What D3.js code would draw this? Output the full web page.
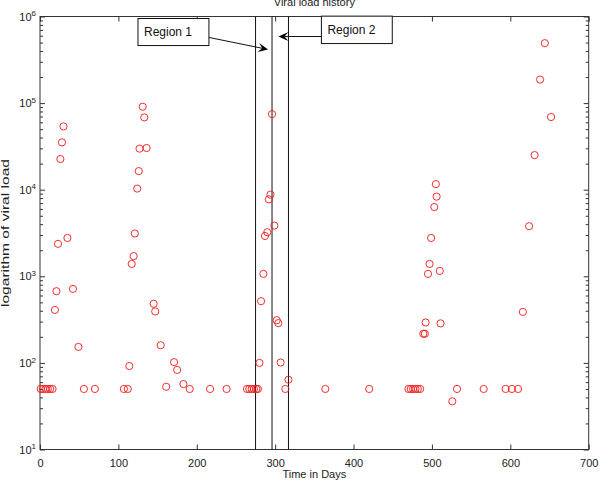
<!DOCTYPE html>
<html>
<head>
<meta charset="utf-8">
<script src="https://cdn.jsdelivr.net/npm/d3@7"></script>
<style>
  body { margin: 0; background: #fff; }
  svg { font-family: "Liberation Sans", Arial, sans-serif; }
</style>
</head>
<body>
<div id="chart"></div>
<script>
// sample days and viral load readings (copies/ml)
const days = [1, 4, 7, 10, 13, 16, 19, 21, 23, 26, 28, 30, 35, 42, 49, 56, 70,
    107, 112, 114, 117, 119.5, 121, 124, 126, 127, 131, 133, 136, 145, 147, 154, 161,
    171, 175, 183, 191, 217, 238, 264, 267, 270, 273, 276, 278, 280, 282, 285, 287,
    290, 292, 294, 296, 299, 302, 304, 307, 313, 317, 364, 420,
    470, 473, 476, 479, 482, 485, 489, 491, 492, 495, 497, 499, 503, 505, 506, 510,
    511, 526, 532, 566, 594, 602, 610, 616, 624, 631, 638, 644, 652];
const viralLoad = [50, 50, 50, 50, 50, 50, 409, 673, 2370, 22600, 35200, 53800, 2770, 716, 153, 50, 50,
    50, 50, 92, 1390, 1710, 3120, 10300, 16400, 29800, 90800, 68400, 30300, 481, 393, 160, 53,
    102, 83, 57, 50, 50, 50, 50, 50, 50, 50, 50, 50, 100, 516, 1066, 2920,
    3230, 7740, 8770, 74600, 3850, 311, 288, 101, 50, 64, 50, 50,
    50, 50, 50, 50, 50, 50, 217, 217, 293, 1066, 1390, 2770, 6310, 11600, 8320, 1153,
    286, 36, 50, 50, 50, 50, 50, 388, 3790, 25100, 187000, 492000, 69000];

const xTicks = [0, 100, 200, 300, 400, 500, 600, 700];
const yDecades = [1e1, 1e2, 1e3, 1e4, 1e5, 1e6];
const regionLines = [275, 296, 317];

const titleText = "Viral load history";
const xLabel = "Time in Days";
const yLabel = "logarithm of viral load";

// callouts, placed in data units
const callouts = [
    { label: "Region 1", x0: 125, x1: 215.5, top: 948000, bottom: 462000,
      from: [215.5, 573000], to: [291, 416000] },
    { label: "Region 2", x0: 359, x1: 449.4, top: 1010000, bottom: 487000,
      from: [359, 587000], to: [304.2, 587000] }
];

const width = 600, height = 482;
const plot = { left: 40, right: 588.7, top: 16.5, bottom: 449.5 };
const axisColor = "#333";

const svg = d3.select("#chart").append("svg")
    .attr("width", width)
    .attr("height", height);

const x = d3.scaleLinear().domain([0, 700]).range([plot.left, plot.right]);
const y = d3.scaleLog().domain([10, 1e6]).range([plot.bottom, plot.top]);

// minor log ticks 2..9 in each decade
const minorTicks = [];
yDecades.slice(0, -1).forEach(d => {
    for (let k = 2; k <= 9; k++) minorTicks.push(d * k);
});

function styleAxis(g) {
    g.select(".domain").remove();
    g.selectAll(".tick line").attr("stroke", axisColor);
    g.selectAll(".tick text").attr("fill", "#222").attr("font-size", "11px");
}

// x axes (bottom with labels, top mirrored)
svg.append("g")
    .attr("transform", "translate(0," + plot.bottom + ")")
    .call(d3.axisBottom(x).tickValues(xTicks).tickSize(-5).tickPadding(10).tickFormat(d3.format("d")))
    .call(styleAxis);
svg.append("g")
    .attr("transform", "translate(0," + plot.top + ")")
    .call(d3.axisTop(x).tickValues(xTicks).tickSize(-5).tickFormat(""))
    .call(styleAxis);

// y axes: major with 10^n labels, minor ticks, mirrored on right
const yLeft = svg.append("g")
    .attr("transform", "translate(" + plot.left + ",0)")
    .call(d3.axisLeft(y).tickValues(yDecades).tickSize(-5).tickPadding(4).tickFormat(() => "10"))
    .call(styleAxis);
yLeft.selectAll(".tick text")
    .each(function(d) {
        d3.select(this).append("tspan")
            .attr("dy", "-0.55em")
            .attr("font-size", "8px")
            .text(Math.round(Math.log10(d)));
    });
svg.append("g")
    .attr("transform", "translate(" + plot.left + ",0)")
    .call(d3.axisLeft(y).tickValues(minorTicks).tickSize(-3).tickFormat(""))
    .call(styleAxis);
svg.append("g")
    .attr("transform", "translate(" + plot.right + ",0)")
    .call(d3.axisRight(y).tickValues(yDecades).tickSize(-5).tickFormat(""))
    .call(styleAxis);
svg.append("g")
    .attr("transform", "translate(" + plot.right + ",0)")
    .call(d3.axisRight(y).tickValues(minorTicks).tickSize(-3).tickFormat(""))
    .call(styleAxis);

// plot box
svg.append("rect")
    .attr("x", plot.left)
    .attr("y", plot.top)
    .attr("width", plot.right - plot.left)
    .attr("height", plot.bottom - plot.top)
    .attr("fill", "none")
    .attr("stroke", axisColor)
    .attr("stroke-width", 1);

// region boundaries
svg.selectAll("line.region")
    .data(regionLines)
    .enter()
    .append("line")
    .attr("class", "region")
    .attr("x1", d => x(d)).attr("x2", d => x(d))
    .attr("y1", plot.top).attr("y2", plot.bottom)
    .attr("stroke", "#111")
    .attr("stroke-width", 1);

// data points
svg.selectAll("circle.pt")
    .data(days.map((d, i) => ({ day: d, load: viralLoad[i] })))
    .enter()
    .append("circle")
    .attr("class", "pt")
    .attr("cx", d => x(d.day))
    .attr("cy", d => y(d.load))
    .attr("r", 3.6)
    .attr("fill", "none")
    .attr("stroke", "#f01818")
    .attr("stroke-width", 0.9);

// callouts with matlab-style notched arrowheads
function arrowHead(tip, from) {
    const ang = Math.atan2(tip[1] - from[1], tip[0] - from[0]);
    const len = 10, half = 4.5, notch = 6;
    const pt = (l, w) => [tip[0] - l * Math.cos(ang) - w * Math.sin(ang),
                          tip[1] - l * Math.sin(ang) + w * Math.cos(ang)];
    return d3.line()([tip, pt(len, half), pt(notch, 0), pt(len, -half), tip]) + "Z";
}

callouts.forEach(c => {
    const from = [x(c.from[0]), y(c.from[1])];
    const tip = [x(c.to[0]), y(c.to[1])];
    const ang = Math.atan2(tip[1] - from[1], tip[0] - from[0]);
    svg.append("line")
        .attr("x1", from[0]).attr("y1", from[1])
        .attr("x2", tip[0] - 6 * Math.cos(ang)).attr("y2", tip[1] - 6 * Math.sin(ang))
        .attr("stroke", "#111");
    svg.append("path")
        .attr("d", arrowHead(tip, from))
        .attr("fill", "#000");
    svg.append("rect")
        .attr("x", x(c.x0)).attr("y", y(c.top))
        .attr("width", x(c.x1) - x(c.x0))
        .attr("height", y(c.bottom) - y(c.top))
        .attr("fill", "#fff")
        .attr("stroke", "#111");
    svg.append("text")
        .attr("x", x(c.x0) + 6)
        .attr("y", (y(c.top) + y(c.bottom)) / 2 + 4)
        .attr("font-size", "12px")
        .attr("fill", "#111")
        .text(c.label);
});

// titles
svg.append("text")
    .attr("x", (plot.left + plot.right) / 2)
    .attr("y", 6)
    .attr("text-anchor", "middle")
    .attr("font-size", "11px")
    .attr("fill", "#222")
    .text(titleText);
svg.append("text")
    .attr("x", (plot.left + plot.right) / 2)
    .attr("y", 477.5)
    .attr("text-anchor", "middle")
    .attr("font-size", "11px")
    .attr("fill", "#222")
    .text(xLabel);
svg.append("text")
    .attr("transform", "translate(9," + ((plot.top + plot.bottom) / 2) + ") rotate(-90)")
    .attr("text-anchor", "middle")
    .attr("font-size", "11px")
    .attr("textLength", 148)
    .attr("lengthAdjust", "spacingAndGlyphs")
    .attr("fill", "#222")
    .text(yLabel);
</script>
</body>
</html>
